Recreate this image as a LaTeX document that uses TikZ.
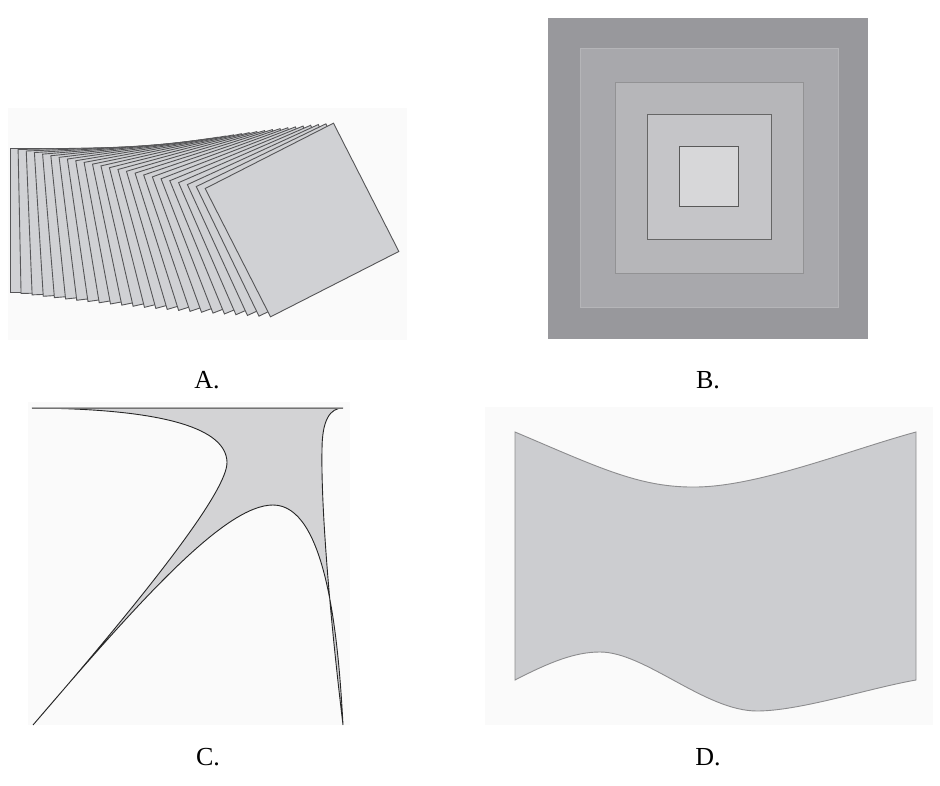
\documentclass[tikz,border=0pt]{standalone}
\usepackage{fontspec}
\setmainfont{Liberation Serif}
\usepackage{tikz}
\usepackage{xcolor}

\definecolor{panelbg}{HTML}{FAFAFA}
\definecolor{sheetfill}{HTML}{D0D1D4}
\definecolor{sheetline}{HTML}{555557}
\definecolor{ringA}{HTML}{98989C}
\definecolor{ringB}{HTML}{A8A8AC}
\definecolor{ringC}{HTML}{B6B6B9}
\definecolor{ringD}{HTML}{C5C5C8}
\definecolor{ringE}{HTML}{D7D7D9}
\definecolor{webfill}{HTML}{D3D3D5}
\definecolor{wavefill}{HTML}{CCCDD0}
\definecolor{waveline}{HTML}{8C8C8E}

\begin{document}
\begin{tikzpicture}[
                x=1pt, y=-1pt,
                panel/.style={fill=panelbg, draw=none},
                sheet/.style={fill=sheetfill, draw=sheetline, line width=0.9pt, line join=miter},
                label/.style={font=\fontsize{26}{30}\selectfont, inner sep=0pt}
            ]
                \useasboundingbox (0,0) rectangle (940,786);

                % Panel A: stack of turning sheets
                \fill[panel] (8,108) rectangle (407,340);
                \foreach \i in {0,...,23} {
                    \pgfmathsetmacro\ang{27*\i/23}
                    \pgfmathsetmacro\cx{82+220*\i/23}
                    \draw[sheet, shift={(\cx,220)}, rotate=\ang]
                        (-72,-72) -- (72,-72) -- (72,72) -- (-72,72) -- cycle;
                }
                \node[label] (labA) at (207,380) {A.};

                % Panel B: nested squares
                \fill[ringA] (548,18) rectangle (868,339);
                \draw[fill=ringB, draw=ringB!85!white, line width=0.8pt] (580,48) rectangle (838,307);
                \draw[fill=ringC, draw=ringC!80!black, line width=0.8pt] (615,82) rectangle (803,273);
                \draw[fill=ringD, draw=black!60, line width=1pt] (647,115) rectangle (771,240);
                \draw[fill=ringE, draw=black!65, line width=1pt] (679,147) rectangle (738,207);
                \node[label] (labB) at (708,380) {B.};

                % Panel C: pinched web
                \fill[panel] (28,402) rectangle (350,725);
                \draw[fill=webfill, draw=black!85, line width=0.9pt]
                    (32,408) -- (343,408)
                    .. controls (330,408) and (322,420) .. (322,450)
                    .. controls (321,500) and (328,600) .. (343,725)
                    .. controls (338,630) and (325,505) .. (273,505)
                    .. controls (225,505) and (140,600) .. (33,725)
                    .. controls (150,590) and (228,490) .. (227,462)
                    .. controls (226,430) and (170,409) .. (32,408) -- cycle;
                \draw[black!55, line width=0.6pt] (32,408) -- (343,408);
                \node[label] (labC) at (208,757) {C.};

                % Panel D: wavy sheet
                \fill[panel] (485,407) rectangle (933,725);
                \draw[fill=wavefill, draw=waveline, line width=0.9pt]
                    (515,432) .. controls (600,468) and (640,488) .. (697,487)
                    .. controls (760,486) and (850,450) .. (916,432)
                    -- (916,680)
                    .. controls (870,688) and (800,711) .. (757,711)
                    .. controls (705,711) and (645,652) .. (600,652)
                    .. controls (575,652) and (550,662) .. (515,680) -- cycle;
                \node[label] (labD) at (708,757) {D.};
            \end{tikzpicture}
\end{document}
